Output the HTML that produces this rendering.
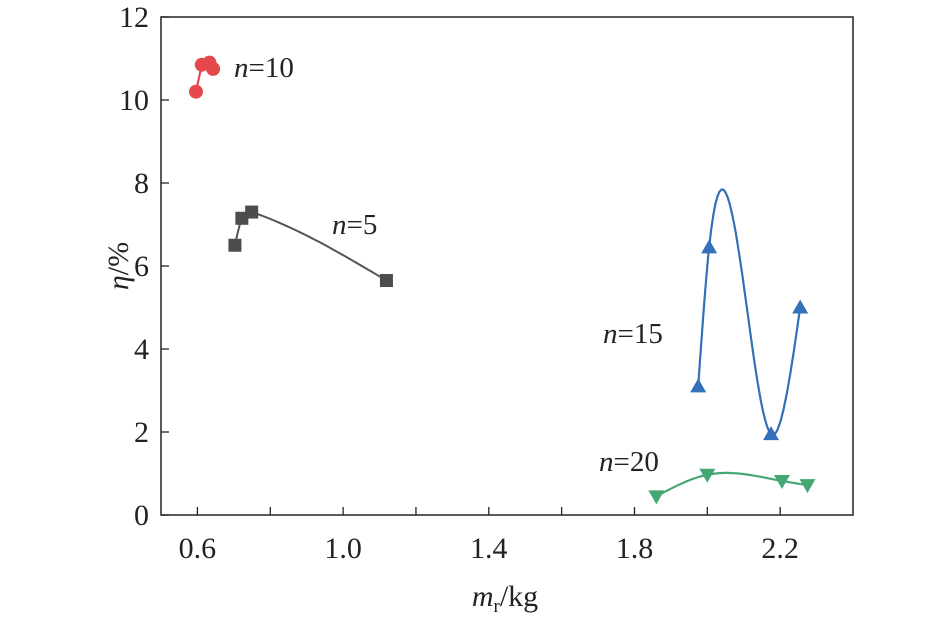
<!DOCTYPE html>
<html><head><meta charset="utf-8"><style>
body{margin:0;background:#fff}
svg{display:block;font-family:"Liberation Serif","Times New Roman",serif}
</style></head><body>
<svg id="chart" width="945" height="620" xmlns="http://www.w3.org/2000/svg"></svg>
<script>
const xTicks=[0.6,1.0,1.4,1.8,2.2];
const yTicks=[0,2,4,6,8,10,12];
const n5X=[0.703,0.722,0.749,1.119];
const n5Y=[6.5,7.15,7.3,5.65];
const n10X=[0.596,0.612,0.633,0.643];
const n10Y=[10.2,10.85,10.9,10.75];
const n15X=[1.975,2.005,2.175,2.255];
const n15Y=[3.1,6.45,1.95,5.0];
const n20X=[1.86,2.0,2.205,2.275];
const n20Y=[0.45,0.97,0.82,0.72];

const L=161,R=853,T=17,B=515,X0=0.5,X1=2.4,Y0=0,Y1=12;
const sx=v=>L+(v-X0)/(X1-X0)*(R-L);
const sy=v=>B-(v-Y0)/(Y1-Y0)*(B-T);
const svg=document.getElementById('chart');
const NS='http://www.w3.org/2000/svg';
function mk(tag,attrs,parent){const e=document.createElementNS(NS,tag);for(const k in attrs)e.setAttribute(k,attrs[k]);(parent||svg).appendChild(e);return e;}

function spline(xs,ys){
  const n=xs.length,h=[],a=[],l=[1],mu=[0],z=[0],c=new Array(n).fill(0),b=[],d=[];
  for(let i=0;i<n-1;i++)h.push(xs[i+1]-xs[i]);
  for(let i=1;i<n-1;i++)a[i]=3/h[i]*(ys[i+1]-ys[i])-3/h[i-1]*(ys[i]-ys[i-1]);
  for(let i=1;i<n-1;i++){l[i]=2*(xs[i+1]-xs[i-1])-h[i-1]*mu[i-1];mu[i]=h[i]/l[i];z[i]=(a[i]-h[i-1]*z[i-1])/l[i];}
  for(let j=n-2;j>=0;j--){c[j]=(j>0?z[j]:0)-mu[j]*c[j+1];b[j]=(ys[j+1]-ys[j])/h[j]-h[j]*(c[j+1]+2*c[j])/3;d[j]=(c[j+1]-c[j])/(3*h[j]);}
  let p='';
  for(let j=0;j<n-1;j++){for(let k=0;k<=30;k++){const t=h[j]*k/30;const y=ys[j]+b[j]*t+c[j]*t*t+d[j]*t*t*t;p+=(p?'L':'M')+sx(xs[j]+t).toFixed(1)+','+sy(y).toFixed(1);}}
  return p;
}

const fr=mk('rect',{x:L,y:T,width:R-L,height:B-T,fill:'none',stroke:'#222','stroke-width':1.5});


for(let v=0.6;v<=2.21;v+=0.2){
  const t=mk('line',{x1:sx(v),x2:sx(v),y1:B,y2:B-8,stroke:'#222','stroke-width':1.3});
  
  
}
xTicks.forEach(v=>{
  const t=mk('text',{x:sx(v),y:B+43,'text-anchor':'middle','font-size':30,fill:'#222'});t.textContent=v.toFixed(1);
  
  
});
yTicks.forEach(v=>{
  const t=mk('line',{x1:L,x2:L+8,y1:sy(v),y2:sy(v),stroke:'#222','stroke-width':1.3});
  
  
  const s=mk('text',{x:L-12,y:sy(v)+10,'text-anchor':'end','font-size':30,fill:'#222'});s.textContent=v;
  
  
});
const xt=mk('text',{x:505,y:606,'text-anchor':'middle','font-size':30,fill:'#222'});
xt.innerHTML='<tspan font-style="italic">m</tspan><tspan font-size="19" dy="6">r</tspan><tspan dy="-6">/kg</tspan>';


const yt=mk('text',{x:0,y:0,'text-anchor':'middle','font-size':30,fill:'#222',transform:'translate(128,266) rotate(-90)'});
yt.innerHTML='<tspan font-style="italic">η</tspan>/%';



let p='';n10X.forEach((x,i)=>p+=(i?'L':'M')+sx(x)+','+sy(n10Y[i]));
const l10=mk('path',{d:p,fill:'none',stroke:'#e5484d','stroke-width':2.2});


n10X.forEach((x,i)=>{const c=mk('circle',{cx:sx(x),cy:sy(n10Y[i]),r:7,fill:'#e5484d'});
  
  });

const l5=mk('path',{d:spline(n5X,n5Y),fill:'none',stroke:'#555','stroke-width':2});


n5X.forEach((x,i)=>{const c=mk('rect',{x:sx(x)-6.5,y:sy(n5Y[i])-6.5,width:13,height:13,fill:'#4d4d4d'});
  
  });

const l15=mk('path',{d:spline(n15X,n15Y),fill:'none',stroke:'#3470b8','stroke-width':2.2});


n15X.forEach((x,i)=>{const X=sx(x),Y=sy(n15Y[i]);const c=mk('polygon',{points:`${X-8},${Y+6} ${X+8},${Y+6} ${X},${Y-8}`,fill:'#3470b8'});
  
  });

const l20=mk('path',{d:spline(n20X,n20Y),fill:'none',stroke:'#45a872','stroke-width':2.2});


n20X.forEach((x,i)=>{const X=sx(x),Y=sy(n20Y[i]);const c=mk('polygon',{points:`${X-8},${Y-6} ${X+8},${Y-6} ${X},${Y+8}`,fill:'#45a872'});
  
  });

[['n=10',234,77,'label-n10'],['n=5',332,234,'label-n5'],['n=15',603,343,'label-n15'],['n=20',599,471,'label-n20']].forEach(a=>{
  const t=mk('text',{x:a[1],y:a[2],'font-size':29,fill:'#222'});
  t.innerHTML='<tspan font-style="italic">n</tspan>'+a[0].slice(1);
  
  
});
</script>
</body></html>
